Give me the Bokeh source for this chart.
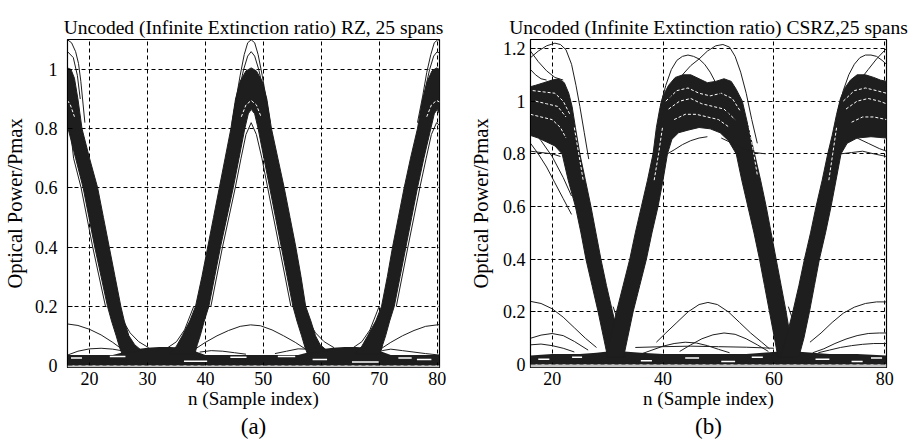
from bokeh.plotting import figure
from bokeh.layouts import row
from bokeh.models import Range1d, FixedTicker, CustomJSTickFormatter, Title, BoxAnnotation
from bokeh.embed import file_html
from bokeh.resources import INLINE

FONT = "Liberation Serif"
INK = "#1e1e1e"

# =============== panel (a): RZ ===============
RZ_TITLE = "Uncoded (Infinite Extinction ratio) RZ, 25 spans"
RZ_TAG = "(a)"
RZ_XTICKS = [20, 30, 40, 50, 60, 70, 80]
RZ_YTICKS = [0, 0.2, 0.4, 0.6, 0.8, 1.0]
RZ_XLIM = [16.2, 80.4]
RZ_YLIM = [-0.007, 1.101]

# floor of the eye (dense traces near zero)
RZ_FLOOR_X = [16.2, 24, 26, 28, 30, 32, 34, 36, 38, 40, 56, 58, 60, 62, 64, 66, 68, 70, 72, 80.4]
RZ_FLOOR_TOP = [0.035, 0.035, 0.045, 0.055, 0.06, 0.062, 0.062, 0.06, 0.05, 0.035,
                0.035, 0.045, 0.055, 0.06, 0.062, 0.062, 0.06, 0.05, 0.035, 0.035]

# pulse bands: outer and inner envelopes
RZ_A_OUT_X = [16.2, 16.8, 17.4, 18.0, 18.7, 20.0, 21.4, 22.4, 23.4, 24.4, 25.4, 26.0, 26.8, 27.8, 29.0]
RZ_A_OUT_Y = [1.005, 1.0, 0.97, 0.9, 0.8, 0.7, 0.6, 0.5, 0.4, 0.3, 0.2, 0.15, 0.1, 0.07, 0.05]
RZ_A_IN_X = [16.2, 16.3, 17.6, 18.9, 19.9, 20.9, 22.0, 23.1, 23.8, 24.6, 25.2, 25.6]
RZ_A_IN_Y = [0.85, 0.8, 0.7, 0.6, 0.5, 0.4, 0.3, 0.2, 0.15, 0.1, 0.06, 0.04]

RZ_B_OUT_X = [33.8, 35.0, 36.0, 37.3, 38.3, 39.4, 40.4, 41.4, 42.4, 43.4, 44.4, 45.2, 46.0, 47.0,
              47.9, 48.8, 49.8, 50.6, 51.4, 52.5, 53.6, 54.6, 55.6, 56.5, 57.3, 58.2, 59.0, 59.8, 61.0]
RZ_B_OUT_Y = [0.04, 0.065, 0.1, 0.15, 0.2, 0.3, 0.4, 0.5, 0.6, 0.7, 0.8, 0.9, 0.96, 0.995,
              1.005, 0.995, 0.96, 0.9, 0.8, 0.7, 0.6, 0.5, 0.4, 0.3, 0.2, 0.15, 0.1, 0.07, 0.05]
RZ_B_IN_X = [38.2, 38.6, 39.1, 39.8, 40.6, 41.6, 42.6, 43.7, 44.8, 45.8, 46.8, 47.4, 47.9,
             48.5, 49.1, 50.1, 51.1, 52.1, 53.1, 54.1, 55.1, 55.8, 56.6, 57.2, 57.6]
RZ_B_IN_Y = [0.04, 0.07, 0.1, 0.15, 0.2, 0.3, 0.4, 0.5, 0.6, 0.7, 0.8, 0.85, 0.865,
             0.85, 0.8, 0.7, 0.6, 0.5, 0.4, 0.3, 0.2, 0.15, 0.1, 0.06, 0.04]

RZ_C_OUT_X = [65.8, 67.0, 68.0, 69.4, 70.4, 71.4, 72.3, 73.3, 74.3, 75.4, 76.6, 77.5, 78.3, 79.1, 79.9, 80.4]
RZ_C_OUT_Y = [0.04, 0.065, 0.1, 0.15, 0.2, 0.3, 0.4, 0.5, 0.6, 0.7, 0.8, 0.9, 0.96, 0.995, 1.005, 1.0]
RZ_C_IN_X = [70.2, 70.6, 71.1, 71.8, 72.6, 73.6, 74.6, 75.6, 76.6, 77.7, 78.9, 79.5, 80.0, 80.4]
RZ_C_IN_Y = [0.04, 0.07, 0.1, 0.15, 0.2, 0.3, 0.4, 0.5, 0.6, 0.7, 0.8, 0.85, 0.865, 0.85]

# isolated thin traces
RZ_THIN_X = [
    [16.2, 18, 20, 22, 24, 25.6],
    [38.2, 40, 42, 44, 46, 47.8, 49.5, 51.5, 53.5, 55.5, 57.3],
    [70.2, 72, 74, 76, 78, 80.4],
    [16.2, 18, 20, 22, 24, 25.5],
    [39, 41, 43, 45, 47],
    [52, 54, 56, 57.5],
    [70.5, 72, 74, 76, 78, 80.4],
    [24.9, 25.8, 27.0, 28.5, 30.2],
    [33.5, 35.0, 36.4, 37.4, 38.0],
    [56.9, 57.8, 59.0, 60.5, 62.2],
    [65.5, 67.0, 68.4, 69.4, 70.0],
    [16.2, 16.9, 17.6, 18.1, 18.5, 18.8, 19.2],
    [16.2, 17.2, 17.9, 18.4],
    [44.6, 45.3, 46.0, 46.7, 47.3, 47.9, 48.5, 49.1, 49.8, 50.5, 51.2],
    [45.0, 45.8, 46.6, 47.3, 47.9, 48.5, 49.2, 50.0, 50.8],
    [76.6, 77.5, 78.2, 78.9, 79.5, 80.1, 80.4],
    [77.0, 77.9, 78.7, 79.4, 80.0, 80.4],
    [40.95, 42.95, 45.15, 46.15, 47.0, 47.9, 48.8, 49.75, 50.75, 52.75, 54.75],
    [72.95, 74.95, 77.0, 78.1, 79.0, 79.9, 80.4],
    [16.2, 16.8, 17.25, 18.55, 20.55, 22.75],
]
RZ_THIN_Y = [
    [0.14, 0.135, 0.122, 0.103, 0.078, 0.055],
    [0.055, 0.078, 0.1, 0.118, 0.132, 0.137, 0.134, 0.12, 0.1, 0.078, 0.055],
    [0.055, 0.078, 0.1, 0.118, 0.132, 0.138],
    [0.035, 0.048, 0.056, 0.058, 0.055, 0.05],
    [0.045, 0.05, 0.048, 0.043, 0.038],
    [0.04, 0.048, 0.056, 0.055],
    [0.05, 0.055, 0.05, 0.045, 0.04, 0.035],
    [0.2, 0.15, 0.11, 0.08, 0.06],
    [0.06, 0.08, 0.12, 0.17, 0.2],
    [0.2, 0.15, 0.11, 0.08, 0.06],
    [0.06, 0.08, 0.12, 0.17, 0.2],
    [1.10, 1.09, 1.06, 1.02, 0.96, 0.9, 0.82],
    [1.06, 1.04, 0.98, 0.9],
    [0.82, 0.9, 0.98, 1.05, 1.09, 1.10, 1.09, 1.05, 0.98, 0.9, 0.82],
    [0.84, 0.93, 1.0, 1.045, 1.06, 1.045, 1.0, 0.93, 0.84],
    [0.82, 0.91, 0.99, 1.05, 1.09, 1.10, 1.098],
    [0.84, 0.93, 1.0, 1.045, 1.06, 1.055],
    [0.2, 0.4, 0.6, 0.7, 0.78, 0.82, 0.78, 0.7, 0.6, 0.4, 0.2],
    [0.2, 0.4, 0.6, 0.7, 0.78, 0.82, 0.81],
    [0.82, 0.78, 0.7, 0.6, 0.4, 0.2],
]

# white gaps (texture) inside the dense regions
RZ_WHITE_X = [
    [46.2, 47.0, 47.9, 48.8, 49.6],
    [78.2, 79.0, 79.9, 80.4],
    [16.2, 16.7, 17.4],
]
RZ_WHITE_Y = [
    [0.84, 0.88, 0.895, 0.88, 0.84],
    [0.84, 0.88, 0.895, 0.89],
    [0.895, 0.88, 0.84],
]
RZ_GAP_X0 = [16.8, 23.5, 36.3, 44.3, 52.5, 58.5, 65.3, 73.3, 76.5]
RZ_GAP_X1 = [18.7, 26.2, 40.3, 47.1, 55.5, 61.0, 69.9, 75.6, 79.0]
RZ_GAP_Y = [0.025, 0.03, 0.014, 0.028, 0.03, 0.02, 0.012, 0.025, 0.02]

# =============== panel (b): CSRZ ===============
CS_TITLE = "Uncoded (Infinite Extinction ratio) CSRZ,25 spans"
CS_TAG = "(b)"
CS_XTICKS = [20, 40, 60, 80]
CS_YTICKS = [0, 0.2, 0.4, 0.6, 0.8, 1.0, 1.2]
CS_XLIM = [16.1, 80.3]
CS_YLIM = [-0.011, 1.234]

CS_FLOOR_X = [16.1, 20, 25, 28, 30, 33, 36, 40, 45, 50, 55, 58, 61, 64, 67, 70, 75, 80.3]
CS_FLOOR_TOP = [0.035, 0.04, 0.04, 0.045, 0.05, 0.05, 0.045, 0.04, 0.04, 0.04, 0.04,
                0.045, 0.05, 0.05, 0.045, 0.04, 0.04, 0.035]

CS_A_OUT_X = [16.1, 17.0, 18.5, 20.0, 21.2, 22.2, 23.0, 23.6, 24.2, 25.0, 26.0, 27.0, 27.9, 28.8,
              29.8, 30.9, 31.8, 32.6, 33.2]
CS_A_OUT_Y = [1.055, 1.06, 1.07, 1.08, 1.085, 1.07, 1.03, 0.98, 0.9, 0.8, 0.7, 0.6, 0.5, 0.4,
              0.3, 0.2, 0.12, 0.06, 0.03]
CS_A_IN_X = [16.1, 17.5, 19.0, 20.5, 21.8, 22.9, 24.2, 25.2, 26.1, 27.2, 28.3, 29.3, 30.0]
CS_A_IN_Y = [0.87, 0.86, 0.845, 0.83, 0.8, 0.7, 0.6, 0.5, 0.4, 0.3, 0.2, 0.1, 0.03]

CS_B_OUT_X = [29.8, 30.5, 31.6, 32.8, 34.0, 35.0, 36.1, 37.2, 38.2, 38.8, 39.4, 40.0, 41.0, 42.2,
              43.6, 45.0, 46.5, 48.0, 49.5, 51.0, 52.3, 53.2, 54.3, 55.4, 56.5, 57.6, 58.6, 59.5,
              60.4, 61.3, 62.2, 63.0, 63.6]
CS_B_OUT_Y = [0.03, 0.1, 0.2, 0.3, 0.4, 0.5, 0.6, 0.7, 0.8, 0.9, 0.97, 1.02, 1.06, 1.09,
              1.1, 1.1, 1.085, 1.07, 1.075, 1.085, 1.075, 1.045, 1.0, 0.9, 0.8, 0.7, 0.6, 0.5,
              0.4, 0.3, 0.2, 0.1, 0.03]
CS_B_IN_X = [32.9, 33.6, 34.6, 35.8, 37.0, 38.0, 39.1, 40.0, 40.8, 41.6, 42.8, 44.5, 46.5, 48.5,
             50.3, 51.8, 53.2, 54.2, 55.3, 56.4, 57.4, 58.3, 59.2, 60.1, 60.7]
CS_B_IN_Y = [0.03, 0.1, 0.2, 0.3, 0.4, 0.5, 0.6, 0.7, 0.8, 0.855, 0.88, 0.89, 0.9, 0.895,
             0.88, 0.85, 0.8, 0.7, 0.6, 0.5, 0.4, 0.3, 0.2, 0.1, 0.03]

CS_C_OUT_X = [61.2, 62.2, 63.4, 64.5, 65.5, 66.6, 67.6, 68.7, 69.7, 70.5, 71.3, 72.0, 72.8, 73.8,
              75.0, 76.5, 78.0, 79.2, 80.3]
CS_C_OUT_Y = [0.03, 0.1, 0.2, 0.3, 0.4, 0.5, 0.6, 0.7, 0.8, 0.87, 0.95, 1.01, 1.05, 1.08,
              1.1, 1.1, 1.09, 1.08, 1.075]
CS_C_IN_X = [64.5, 65.4, 66.4, 67.3, 68.2, 69.3, 70.3, 71.2, 72.1, 73.2, 75.0, 77.5, 80.3]
CS_C_IN_Y = [0.03, 0.1, 0.2, 0.3, 0.4, 0.5, 0.6, 0.7, 0.8, 0.84, 0.86, 0.865, 0.86]

CS_THIN_X = [
    [16.1, 18, 20, 22, 24, 26, 28],
    [38.8, 40.5, 42.5, 44.5, 46.5, 48.1, 49.8, 51.8, 53.8, 55.8, 57.8, 59.2],
    [66.5, 68.5, 70.5, 72.5, 74.5, 76.5, 78.5, 80.3],
    [16.1, 18, 20, 22, 24, 26.5],
    [43, 45, 47, 49, 51, 53, 55, 57, 59],
    [67, 69, 71, 73, 75, 77, 79, 80.3],
    [36, 38, 40, 42, 44, 46, 48, 50, 52],
    [16.1, 18, 20, 22, 24],
    [68, 70, 72, 74, 76, 78, 80.3],
    [35, 40, 45, 50, 55, 60],
    [31.0, 31.8, 32.6],
    [31.4, 32.2, 33.0],
    [62.6, 63.4, 64.2],
    [63.0, 63.8, 64.6],
    [16.1, 17.5, 19, 20.5, 21.5, 22.5, 23.5, 24.3, 25.0, 25.8, 26.6],
    [16.1, 17.5, 19.0, 20.5, 22.0],
    [16.1, 17.0, 18.0, 19.0],
    [40.5, 42, 43.5, 45, 46.5, 48, 49.5, 50.8, 52, 53, 54, 55, 56, 57],
    [39.5, 40.5, 41.5, 42.5, 43.5, 44.5, 45.5, 46.5, 47.5, 48.5, 49.5, 50.5, 51.5, 52.5],
    [71.5, 72.5, 73.5, 74.5, 75.5, 76.5, 77.5, 78.5, 79.5, 80.3],
    [74, 75.5, 77, 78.5, 80.3],
    [16.1, 18, 20, 21.5],
    [16.1, 17.5, 19, 20.5, 22, 23.5],
    [16.1, 18, 20, 22, 23.5],
    [40.8, 42, 43.5, 45, 46.5, 48],
    [50.5, 52.5, 54.5, 56.5, 58.5],
    [72.1, 74, 76, 78, 80.3],
    [75, 77, 79, 80.3],
]
CS_THIN_Y = [
    [0.24, 0.232, 0.212, 0.18, 0.14, 0.1, 0.065],
    [0.085, 0.12, 0.16, 0.2, 0.228, 0.236, 0.228, 0.2, 0.16, 0.12, 0.085, 0.06],
    [0.085, 0.12, 0.16, 0.195, 0.218, 0.232, 0.238, 0.238],
    [0.1, 0.112, 0.118, 0.11, 0.088, 0.055],
    [0.05, 0.075, 0.098, 0.113, 0.12, 0.115, 0.098, 0.075, 0.05],
    [0.045, 0.06, 0.08, 0.097, 0.11, 0.118, 0.12, 0.12],
    [0.04, 0.055, 0.07, 0.08, 0.085, 0.082, 0.072, 0.058, 0.045],
    [0.075, 0.078, 0.072, 0.062, 0.048],
    [0.045, 0.055, 0.065, 0.072, 0.077, 0.08, 0.08],
    [0.065, 0.068, 0.07, 0.068, 0.066, 0.062],
    [0.22, 0.17, 0.12],
    [0.12, 0.18, 0.23],
    [0.22, 0.17, 0.12],
    [0.12, 0.18, 0.23],
    [1.165, 1.19, 1.21, 1.22, 1.215, 1.195, 1.14, 1.06, 0.98, 0.88, 0.78],
    [1.19, 1.15, 1.115, 1.09, 1.08],
    [1.12, 1.1, 1.085, 1.08],
    [0.98, 1.05, 1.1, 1.135, 1.16, 1.19, 1.21, 1.215, 1.205, 1.17, 1.11, 1.03, 0.93, 0.84],
    [0.98, 1.06, 1.12, 1.155, 1.17, 1.175, 1.17, 1.16, 1.14, 1.11, 1.07, 1.02, 0.97, 0.9],
    [0.96, 1.04, 1.1, 1.14, 1.165, 1.175, 1.175, 1.17, 1.155, 1.14],
    [1.04, 1.08, 1.12, 1.16, 1.2],
    [0.81, 0.805, 0.8, 0.79],
    [0.84, 0.8, 0.75, 0.69, 0.63, 0.57],
    [0.9, 0.85, 0.79, 0.71, 0.64],
    [0.8, 0.815, 0.835, 0.85, 0.86, 0.865],
    [0.86, 0.84, 0.82, 0.805, 0.8],
    [0.8, 0.805, 0.81, 0.8, 0.79],
    [0.86, 0.84, 0.82, 0.81],
]

# white speckle lines inside the dense tops and upper band sections
CS_WHITE_X = [
    [16.1, 18, 20, 21.5, 22.5],
    [17, 19, 21, 22.5],
    [16.5, 18.5, 20.5, 22.0, 23.2],
    [41, 43, 45, 47, 49, 51, 53],
    [42, 44, 46, 48, 50, 52],
    [40.5, 42.5, 44.5, 46.5, 48.5, 50.5, 52.5, 54],
    [73, 75, 77, 79, 80.3],
    [74, 76, 78, 80.3],
    [72.5, 74.5, 76.5, 78.5, 80.3],
    [24.0, 24.8, 25.6],
    [38.4, 39.2, 39.9],
    [55.4, 56.2, 57.0],
    [69.9, 70.6, 71.3],
]
CS_WHITE_Y = [
    [0.95, 0.94, 0.93, 0.9, 0.86],
    [1.0, 0.99, 0.98, 0.94],
    [1.04, 1.035, 1.03, 1.0, 0.95],
    [0.97, 1.0, 1.01, 0.99, 0.98, 0.97, 0.93],
    [0.93, 0.95, 0.95, 0.94, 0.93, 0.9],
    [1.0, 1.04, 1.05, 1.03, 1.02, 1.03, 1.01, 0.96],
    [0.97, 1.0, 1.01, 1.0, 0.99],
    [0.92, 0.94, 0.94, 0.93],
    [1.0, 1.04, 1.05, 1.04, 1.03],
    [0.9, 0.8, 0.7],
    [0.7, 0.8, 0.9],
    [0.92, 0.82, 0.72],
    [0.7, 0.8, 0.9],
]
CS_GAP_X0 = [17.5, 23.6, 36.0, 44.0, 50.5, 56.0, 67.5, 74.0, 77.5]
CS_GAP_X1 = [19.5, 25.4, 38.0, 46.5, 53.0, 58.0, 70.0, 76.0, 79.5]
CS_GAP_Y = [0.02, 0.028, 0.015, 0.025, 0.012, 0.028, 0.02, 0.012, 0.025]


def make_panel(width, mb_left, mb_right, mb_top, xlim, ylim, xticks, yticks, title, tag,
               floor_x, floor_top, bands, thin_x, thin_y, white_x, white_y,
               gap_x0, gap_x1, gap_y, ylab_standoff, ytick_standoff):
    p = figure(width=width, height=439, x_range=Range1d(*xlim), y_range=Range1d(*ylim),
               output_backend="svg", toolbar_location=None,
               min_border_left=mb_left, min_border_right=mb_right,
               min_border_top=mb_top, min_border_bottom=72)
    p.background_fill_color = "white"
    p.border_fill_color = "white"
    p.outline_line_color = "black"
    p.outline_line_width = 1.2

    p.title.text = title
    p.title.align = "center"
    p.title.text_font = FONT
    p.title.text_font_size = "19.5px"
    p.title.text_font_style = "normal"
    p.title.text_color = "black"
    p.title.standoff = 3

    for g in (p.xgrid[0], p.ygrid[0]):
        g.grid_line_color = "black"
        g.grid_line_dash = "4 3"
        g.grid_line_width = 1

    xa, ya = p.xaxis[0], p.yaxis[0]
    xa.ticker = FixedTicker(ticks=xticks)
    ya.ticker = FixedTicker(ticks=yticks)
    ya.formatter = CustomJSTickFormatter(code="return (Math.round(tick*10)/10).toString();")
    for ax in (xa, ya):
        ax.major_label_text_font = FONT
        ax.major_label_text_font_size = "18px"
        ax.major_label_text_color = "black"
        ax.axis_label_text_font = FONT
        ax.axis_label_text_font_style = "normal"
        ax.axis_label_text_color = "black"
        ax.major_tick_in = 5
        ax.major_tick_out = 0
        ax.minor_tick_line_color = None
        ax.axis_line_color = "black"
        ax.major_tick_line_color = "black"
    xa.axis_label = "n (Sample index)"
    xa.axis_label_text_font_size = "19px"
    xa.major_label_standoff = 4
    xa.axis_label_standoff = 0
    ya.axis_label = "Optical Power/Pmax"
    ya.axis_label_text_font_size = "20.5px"
    ya.major_label_standoff = ytick_standoff
    ya.axis_label_standoff = ylab_standoff

    t = Title(text=tag, align="center", text_font=FONT, text_font_size="23px",
              text_font_style="normal", text_color="black", standoff=0)
    p.add_layout(t, "below")

    # grey strip below zero
    p.add_layout(BoxAnnotation(top=0, fill_color="#c4c4c4", fill_alpha=1, line_alpha=0))

    # dense floor
    p.varea(x=floor_x, y1=[0] * len(floor_x), y2=floor_top, fill_color=INK)
    # dense bands
    for ox, oy, ix, iy in bands:
        p.patch(ox + ix[::-1], oy + iy[::-1], fill_color=INK, line_color=INK, line_width=1)
    # texture gaps
    p.multi_line(white_x, white_y, line_color="white", line_width=1, line_dash="3 2")
    p.segment(x0=gap_x0, y0=gap_y, x1=gap_x1, y1=gap_y, line_color="white", line_width=1.5)
    # isolated traces
    p.multi_line(thin_x, thin_y, line_color=INK, line_width=1)
    return p


p1 = make_panel(460, 62, 21, 39, RZ_XLIM, RZ_YLIM, RZ_XTICKS, RZ_YTICKS, RZ_TITLE, RZ_TAG,
                RZ_FLOOR_X, RZ_FLOOR_TOP,
                [(RZ_A_OUT_X, RZ_A_OUT_Y, RZ_A_IN_X, RZ_A_IN_Y),
                 (RZ_B_OUT_X, RZ_B_OUT_Y, RZ_B_IN_X, RZ_B_IN_Y),
                 (RZ_C_OUT_X, RZ_C_OUT_Y, RZ_C_IN_X, RZ_C_IN_Y)],
                RZ_THIN_X, RZ_THIN_Y, RZ_WHITE_X, RZ_WHITE_Y,
                RZ_GAP_X0, RZ_GAP_X1, RZ_GAP_Y, 6, 10)
p2 = make_panel(449, 70, 23, 35, CS_XLIM, CS_YLIM, CS_XTICKS, CS_YTICKS, CS_TITLE, CS_TAG,
                CS_FLOOR_X, CS_FLOOR_TOP,
                [(CS_A_OUT_X, CS_A_OUT_Y, CS_A_IN_X, CS_A_IN_Y),
                 (CS_B_OUT_X, CS_B_OUT_Y, CS_B_IN_X, CS_B_IN_Y),
                 (CS_C_OUT_X, CS_C_OUT_Y, CS_C_IN_X, CS_C_IN_Y)],
                CS_THIN_X, CS_THIN_Y, CS_WHITE_X, CS_WHITE_Y,
                CS_GAP_X0, CS_GAP_X1, CS_GAP_Y, 8, 5)

layout = row(p1, p2)
open("out.html", "w").write(file_html(layout, INLINE))
